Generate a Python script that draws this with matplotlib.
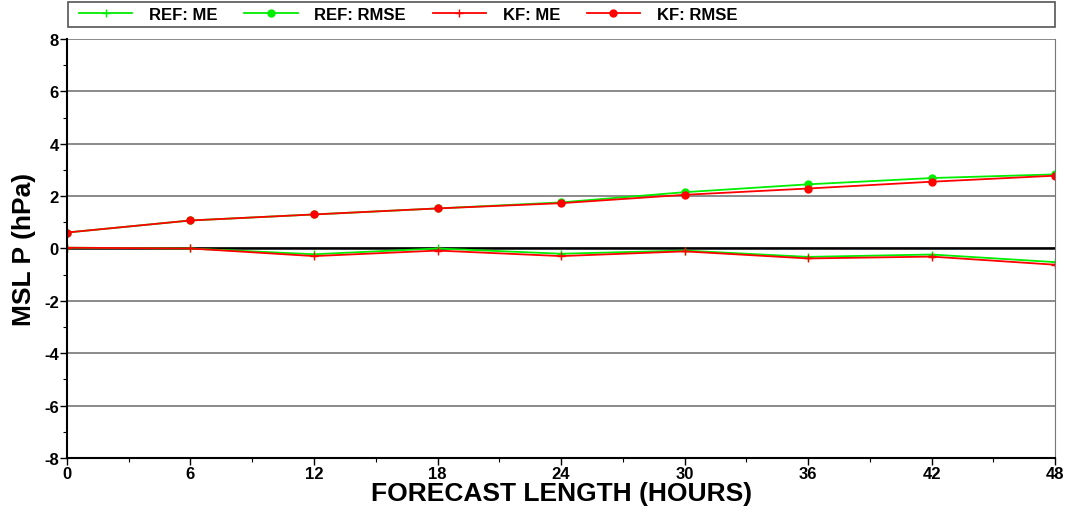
import matplotlib
matplotlib.use('Agg')
import matplotlib.pyplot as plt
from matplotlib.ticker import MultipleLocator
from matplotlib.patches import Rectangle

plt.rcParams['font.family'] = ['Liberation Sans', 'DejaVu Sans']
plt.rcParams['axes.unicode_minus'] = False

hours = [0, 6, 12, 18, 24, 30, 36, 42, 48]
ref_me = [0.03, 0.0, -0.22, 0.0, -0.2, -0.08, -0.32, -0.23, -0.52]
ref_rmse = [0.61, 1.07, 1.3, 1.53, 1.76, 2.15, 2.45, 2.69, 2.83]
kf_me = [0.03, 0.0, -0.29, -0.08, -0.29, -0.11, -0.38, -0.31, -0.62]
kf_rmse = [0.61, 1.07, 1.3, 1.53, 1.73, 2.05, 2.29, 2.55, 2.78]

fig = plt.figure(figsize=(10.68, 5.10), dpi=100)
ax = fig.add_axes([0.0627, 0.1, 0.9253, 0.8216])

green = '#00ee00'
red = '#ff0000'
ax.plot(hours, ref_me, color=green, lw=1.3, marker='+', ms=6, label='REF: ME')
ax.plot(hours, ref_rmse, color=green, lw=1.3, marker='o', ms=5, label='REF: RMSE')
ax.plot(hours, kf_me, color=red, lw=1.3, marker='+', ms=6, label='KF: ME')
ax.plot(hours, kf_rmse, color=red, lw=1.3, marker='o', ms=5, label='KF: RMSE')

ax.set_xlim(0, 48)
ax.set_ylim(-8, 8)
ax.xaxis.set_major_locator(MultipleLocator(6))
ax.xaxis.set_minor_locator(MultipleLocator(3))
ax.yaxis.set_major_locator(MultipleLocator(2))
ax.yaxis.set_minor_locator(MultipleLocator(1))
for yv in range(-6, 9, 2):
    ax.axhline(yv, color='#777777', lw=1.2, zorder=0)
ax.axhline(0, color='black', lw=1.8, zorder=1)

ax.tick_params(which='major', length=5, width=1, labelsize=12, pad=1)
ax.tick_params(which='minor', length=3, width=0.8)
for lab in ax.get_xticklabels() + ax.get_yticklabels():
    lab.set_fontweight('bold')
ax.spines['top'].set_visible(False)
ax.spines['right'].set_color('#777777')
ax.spines['left'].set_linewidth(1.5)
ax.spines['bottom'].set_linewidth(1.5)

ax.set_xlabel('FORECAST LENGTH (HOURS)', fontsize=19, fontweight='bold', labelpad=0)
ax.set_ylabel('MSL P (hPa)', fontsize=19, fontweight='bold', labelpad=6)

# legend frame spans the plot width, entries packed at the left
fig.patches.append(Rectangle((0.0637, 0.946), 0.924, 0.048, transform=fig.transFigure,
                             facecolor='white', edgecolor='#555555', lw=1.2))
leg = fig.legend(loc='center left', bbox_to_anchor=(0.060, 0.970), ncol=4, frameon=False,
                 handlelength=3.2, columnspacing=1.6, handletextpad=1.0,
                 prop={'weight': 'bold', 'size': 12})

fig.savefig('out.png', dpi=100)
